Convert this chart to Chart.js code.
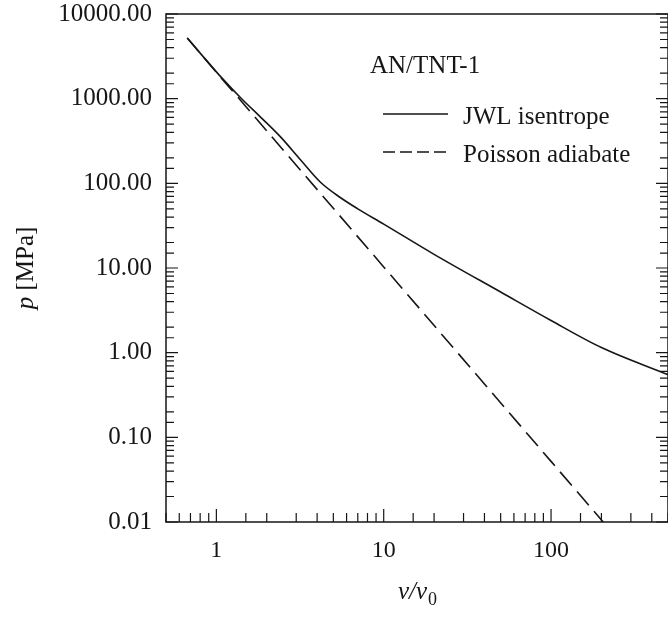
<!DOCTYPE html>
<html>
<head>
<meta charset="utf-8">
<title>AN/TNT-1 isentrope</title>
<script src="https://cdn.jsdelivr.net/npm/chart.js@4.4.1/dist/chart.umd.min.js"></script>
<style>
  html, body { margin: 0; padding: 0; background: #fff; }
  #wrap { width: 668px; height: 622px; }
</style>
</head>
<body>
<div id="wrap"><canvas id="chart" width="668" height="622"></canvas></div>
<script>
// --- Data ---
const jwlVolume   = [0.67, 0.8, 1.06, 1.42, 1.83, 2.41, 3.18, 4.19, 5.5, 7, 10, 20, 50, 100, 200, 500];
const jwlPressure = [5200, 3450, 1820, 990, 610, 356, 190, 103, 68, 50, 33, 14.5, 5.2, 2.4, 1.15, 0.55];
const poissonVolume   = [0.67, 1, 10, 100, 205];
const poissonPressure = [5200, 2050, 10.3, 0.052, 0.01];

const seriesNames = ['JWL isentrope', 'Poisson adiabate'];
const noteText = 'AN/TNT-1';
const xTickLabels = ['1', '10', '100'];
const yTickLabels = ['0.01', '0.10', '1.00', '10.00', '100.00', '1000.00', '10000.00'];

// --- Style ---
const FONT = "'Liberation Serif', 'Times New Roman', serif";
const INK = '#161616';

const isDecade = v => Math.abs(Math.log10(v) - Math.round(Math.log10(v))) < 1e-6;
const labelFor = (list, v) => list.find(l => Math.abs(Math.log10(parseFloat(l)) - Math.log10(v)) < 1e-6) || '';
const toPoints = (xs, ys) => xs.map((x, i) => ({ x: x, y: ys[i] }));

// frame, inward ticks, legend block and axis titles
const framePlugin = {
    id: 'frame',
    afterDraw(chart) {
        const { ctx, chartArea: a, scales } = chart;
        ctx.save();
        ctx.strokeStyle = INK;
        ctx.fillStyle = INK;

        ctx.lineWidth = 1.5;
        ctx.strokeRect(a.left, a.top, a.right - a.left, a.bottom - a.top);

        ctx.lineWidth = 1.2;
        ctx.beginPath();
        scales.x.ticks.forEach(t => {
            const px = scales.x.getPixelForValue(t.value);
            const len = isDecade(t.value) ? 13 : 9;
            ctx.moveTo(px, a.bottom);
            ctx.lineTo(px, a.bottom - len);
        });
        scales.y.ticks.forEach(t => {
            const py = scales.y.getPixelForValue(t.value);
            const len = isDecade(t.value) ? 12 : 8;
            ctx.moveTo(a.left, py);
            ctx.lineTo(a.left + len, py);
            ctx.moveTo(a.right, py);
            ctx.lineTo(a.right - len, py);
        });
        ctx.stroke();

        // legend block
        ctx.font = `25px ${FONT}`;
        ctx.textBaseline = 'alphabetic';
        ctx.textAlign = 'left';
        ctx.fillText(noteText, 370, 73);
        chart.data.datasets.forEach((ds, i) => {
            const y = 114 + i * 38;
            ctx.lineWidth = ds.borderWidth;
            ctx.setLineDash(i === 0 ? [] : [12, 5]);
            ctx.beginPath();
            ctx.moveTo(383, y);
            ctx.lineTo(448, y);
            ctx.stroke();
            ctx.setLineDash([]);
            ctx.fillText(ds.label, 463, y + 10);
        });

        // x title: v/v0
        const xMid = (a.left + a.right) / 2;
        ctx.font = `italic 25px ${FONT}`;
        const main = 'v/v';
        const wMain = ctx.measureText(main).width;
        ctx.font = `18px ${FONT}`;
        const wSub = ctx.measureText('0').width;
        let x0 = xMid - (wMain + wSub) / 2;
        ctx.font = `italic 25px ${FONT}`;
        ctx.fillText(main, x0, 599);
        ctx.font = `18px ${FONT}`;
        ctx.fillText('0', x0 + wMain + 1, 605);

        // y title: p [MPa]
        ctx.translate(33, (a.top + a.bottom) / 2);
        ctx.rotate(-Math.PI / 2);
        ctx.font = `italic 25px ${FONT}`;
        const wp = ctx.measureText('p').width;
        ctx.font = `25px ${FONT}`;
        const wRest = ctx.measureText(' [MPa]').width;
        const y0 = -(wp + wRest) / 2;
        ctx.font = `italic 25px ${FONT}`;
        ctx.fillText('p', y0, 0);
        ctx.font = `25px ${FONT}`;
        ctx.fillText(' [MPa]', y0 + wp, 0);

        ctx.restore();
    }
};

new Chart(document.getElementById('chart'), {
    type: 'line',
    data: {
        datasets: [
            {
                label: seriesNames[0],
                data: toPoints(jwlVolume, jwlPressure),
                borderColor: INK,
                borderWidth: 1.6,
                pointRadius: 0,
                cubicInterpolationMode: 'monotone'
            },
            {
                label: seriesNames[1],
                data: toPoints(poissonVolume, poissonPressure),
                borderColor: INK,
                borderWidth: 1.6,
                borderDash: [18, 8],
                pointRadius: 0,
                tension: 0
            }
        ]
    },
    options: {
        responsive: false,
        animation: false,
        devicePixelRatio: 1,
        layout: { padding: { top: 14, right: 0, left: 0, bottom: 0 } },
        plugins: { legend: { display: false }, tooltip: { enabled: false } },
        scales: {
            x: {
                type: 'logarithmic',
                min: 0.5,
                max: 500,
                grid: { display: false, drawTicks: false },
                border: { display: false },
                afterFit: s => { s.height = 100; s.paddingLeft = 0; s.paddingRight = 0; },
                ticks: {
                    autoSkip: false,
                    maxRotation: 0,
                    padding: 14,
                    color: INK,
                    font: { family: FONT, size: 24 },
                    callback: v => labelFor(xTickLabels, v)
                }
            },
            y: {
                type: 'logarithmic',
                min: 0.01,
                max: 10000,
                grid: { display: false, drawTicks: false },
                border: { display: false },
                afterFit: s => { s.width = 166; s.paddingTop = 0; s.paddingBottom = 0; },
                ticks: {
                    autoSkip: false,
                    padding: 14,
                    color: INK,
                    font: { family: FONT, size: 25 },
                    callback: v => labelFor(yTickLabels, v)
                }
            }
        }
    },
    plugins: [framePlugin]
});
</script>
</body>
</html>
